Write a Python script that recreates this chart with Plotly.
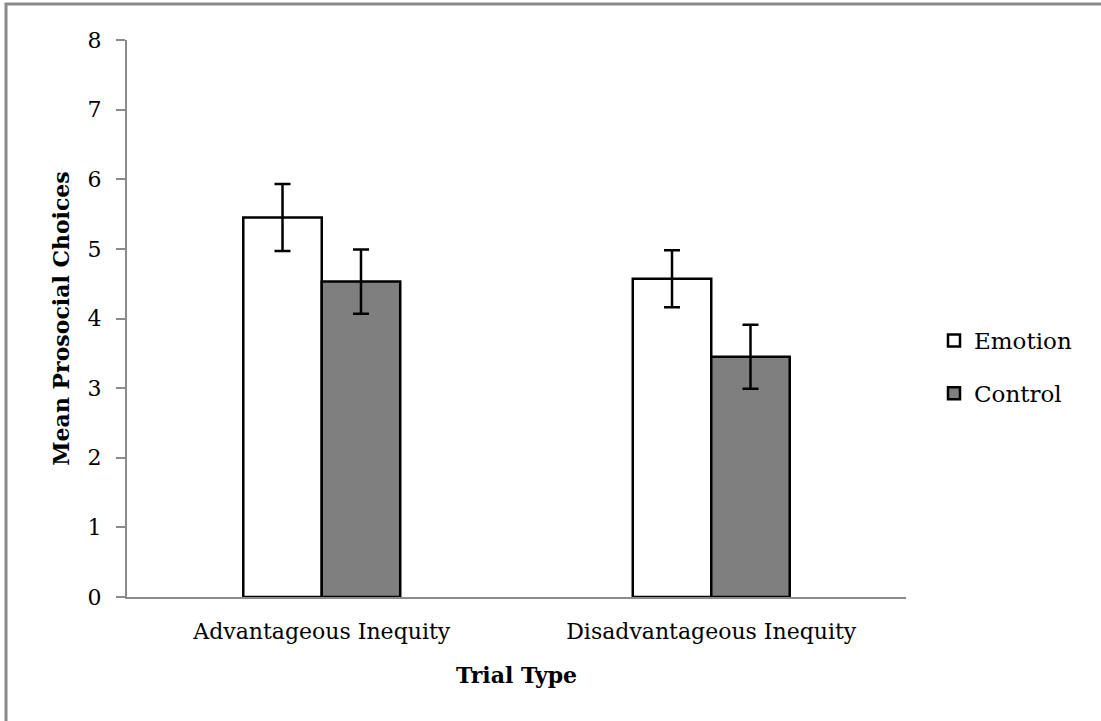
import plotly.graph_objects as go

categories = ["Advantageous Inequity", "Disadvantageous Inequity"]
emotion_vals = [5.45, 4.57]
emotion_err = [0.48, 0.41]
control_vals = [4.53, 3.45]
control_err = [0.46, 0.46]
y_ticks = [0, 1, 2, 3, 4, 5, 6, 7, 8]

FONT = "DejaVu Serif"
AXIS_GRAY = "#8c8c8c"

fig = go.Figure()
fig.add_trace(go.Bar(
    name="Emotion", x=categories, y=emotion_vals,
    marker=dict(color="white", line=dict(color="black", width=2.5)),
    error_y=dict(type="data", array=emotion_err, color="black", thickness=2.5, width=8),
    legendgroup="e",
))
fig.add_trace(go.Bar(
    name="Control", x=categories, y=control_vals,
    marker=dict(color="#7f7f7f", line=dict(color="black", width=2.5)),
    error_y=dict(type="data", array=control_err, color="black", thickness=2.5, width=8),
    legendgroup="c",
))

W, H = 1101, 721
L, R, T, B = 127, 195, 40, 124
pw, ph = W - L - R, H - T - B

def px(x):
    return (x - L) / pw

def py(y):
    return (H - B - y) / ph

fig.update_layout(
    width=W, height=H,
    margin=dict(l=L, r=R, t=T, b=B),
    paper_bgcolor="white", plot_bgcolor="white",
    barmode="group", bargap=0.597, bargroupgap=0,
    font=dict(family=FONT, size=22, color="black"),
    showlegend=True,
    legend=dict(x=px(934), y=py(367), xanchor="left", yanchor="middle",
                font=dict(family=FONT, size=23, color="black"),
                traceorder="grouped", tracegroupgap=20,
                itemwidth=30, bgcolor="rgba(0,0,0,0)"),
    xaxis=dict(showline=True, linecolor=AXIS_GRAY, linewidth=2, ticks="",
               showgrid=False, tickfont=dict(family=FONT, size=22),
               ticklabelstandoff=14,
               title=dict(text="<b>Trial Type</b>", font=dict(family=FONT, size=22), standoff=24)),
    yaxis=dict(range=[0, 8], tickvals=y_ticks, showline=True, linecolor=AXIS_GRAY,
               linewidth=2, ticks="outside", ticklen=9, tickwidth=2, tickcolor=AXIS_GRAY,
               showgrid=False, zeroline=False, tickfont=dict(family=FONT, size=22),
               ticklabelstandoff=10,
               title=dict(text="<b>Mean Prosocial Choices</b>", font=dict(family=FONT, size=22), standoff=12)),
    shapes=[dict(type="path", xref="paper", yref="paper",
                 path=f"M {px(6)} {py(725)} L {px(6)} {py(4)} L {px(1110)} {py(4)}",
                 line=dict(color="#8a8a8a", width=3))],
)

fig.write_html("out.html")
